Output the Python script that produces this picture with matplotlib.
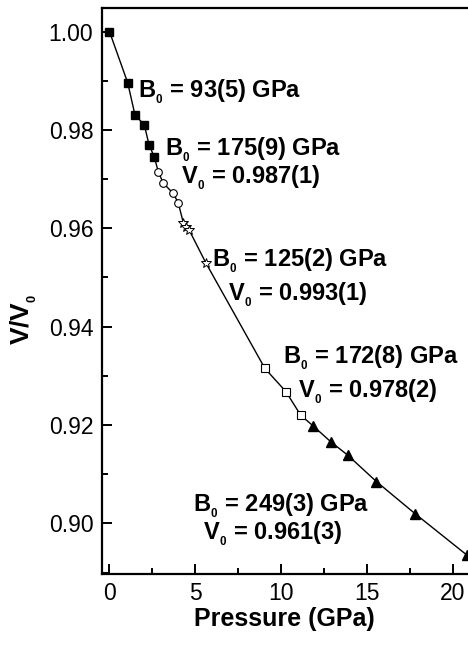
import matplotlib

matplotlib.use("Agg")
import matplotlib.pyplot as plt
import numpy as np

plt.rcParams["font.family"] = ["Liberation Sans", "DejaVu Sans"]
plt.rcParams["mathtext.fontset"] = "custom"
plt.rcParams["mathtext.rm"] = "Liberation Sans:bold"
plt.rcParams["mathtext.bf"] = "Liberation Sans:bold"
plt.rcParams["mathtext.default"] = "bf"

# phase I (filled squares)
p_sq = [0.0, 1.06, 1.48, 2.03, 2.30, 2.61]
v_sq = [1.000, 0.9896, 0.9831, 0.9810, 0.9770, 0.9745]
# open circles
p_ci = [2.84, 3.13, 3.71, 4.00]
v_ci = [0.9715, 0.9692, 0.9671, 0.9652]
# open stars
p_st = [4.30, 4.45, 4.63, 5.62]
v_st = [0.9611, 0.9603, 0.9597, 0.9529]
# open squares
p_os = [9.05, 10.27, 11.13]
v_os = [0.9315, 0.9268, 0.9220]
# filled triangles
p_tr = [11.86, 12.88, 13.86, 15.54, 17.78, 20.79]
v_tr = [0.9198, 0.9166, 0.9139, 0.9085, 0.9020, 0.8936]

labels = [
    (1.66, 0.9877, r"B$_{_0}$ = 93(5) GPa"),
    (3.23, 0.9759, r"B$_{_0}$ = 175(9) GPa"),
    (4.16, 0.9702, r"V$_{_0}$ = 0.987(1)"),
    (5.97, 0.9534, r"B$_{_0}$ = 125(2) GPa"),
    (6.90, 0.9466, r"V$_{_0}$ = 0.993(1)"),
    (10.10, 0.9336, r"B$_{_0}$ = 172(8) GPa"),
    (10.97, 0.9267, r"V$_{_0}$ = 0.978(2)"),
    (4.86, 0.9037, r"B$_{_0}$ = 249(3) GPa"),
    (5.44, 0.8980, r"V$_{_0}$ = 0.961(3)"),
]

fig = plt.figure(figsize=(4.68, 6.45), dpi=100)
ax = fig.add_axes([0.2173, 0.110, 0.7827, 0.8776])

# fit curve drawn through all the points
p_all = np.concatenate([p_sq, p_ci, p_st, p_os, p_tr])
v_all = np.concatenate([v_sq, v_ci, v_st, v_os, v_tr])
order = np.argsort(p_all)
ax.plot(p_all[order], v_all[order], color="black", lw=1.0, zorder=1)

ax.plot(p_sq, v_sq, "s", ms=5.5, color="black", zorder=3)
ax.plot(p_ci, v_ci, "o", ms=5.5, mfc="white", mec="black", mew=0.8, zorder=3)
ax.plot(p_st, v_st, "*", ms=7.5, mfc="white", mec="black", mew=0.7, zorder=3)
ax.plot(p_os, v_os, "s", ms=5.5, mfc="white", mec="black", mew=0.8, zorder=3)
ax.plot(p_tr, v_tr, "^", ms=6.5, color="black", zorder=3, clip_on=False)

for x, y, s in labels:
    ax.text(x, y, s, fontsize=17, fontweight="bold", ha="left", va="center")

ax.set_xlim(-0.454, 20.87)
ax.set_ylim(0.8897, 1.0048)
ax.set_xticks([0, 5, 10, 15, 20])
ax.set_xticks([2.5, 7.5, 12.5, 17.5], minor=True)
ax.set_yticks([0.90, 0.92, 0.94, 0.96, 0.98, 1.00])
ax.set_yticks([0.89, 0.91, 0.93, 0.95, 0.97, 0.99], minor=True)
ax.set_yticklabels(["0.90", "0.92", "0.94", "0.96", "0.98", "1.00"])
ax.tick_params(which="both", direction="in", labelsize=16.5, width=1.4)
ax.tick_params(which="major", length=7, pad=6)
ax.tick_params(which="minor", length=4)
ax.spines["right"].set_visible(False)
for side in ("left", "bottom", "top"):
    ax.spines[side].set_linewidth(1.6)

ax.set_xlabel("Pressure (GPa)", fontsize=18, fontweight="bold")
ax.set_ylabel(r"V/V$_{_0}$", fontsize=19, fontweight="bold")
ax.xaxis.set_label_coords(0.5, -0.058)
ax.yaxis.set_label_coords(-0.17, 0.45)

fig.savefig("out.png", dpi=100)
